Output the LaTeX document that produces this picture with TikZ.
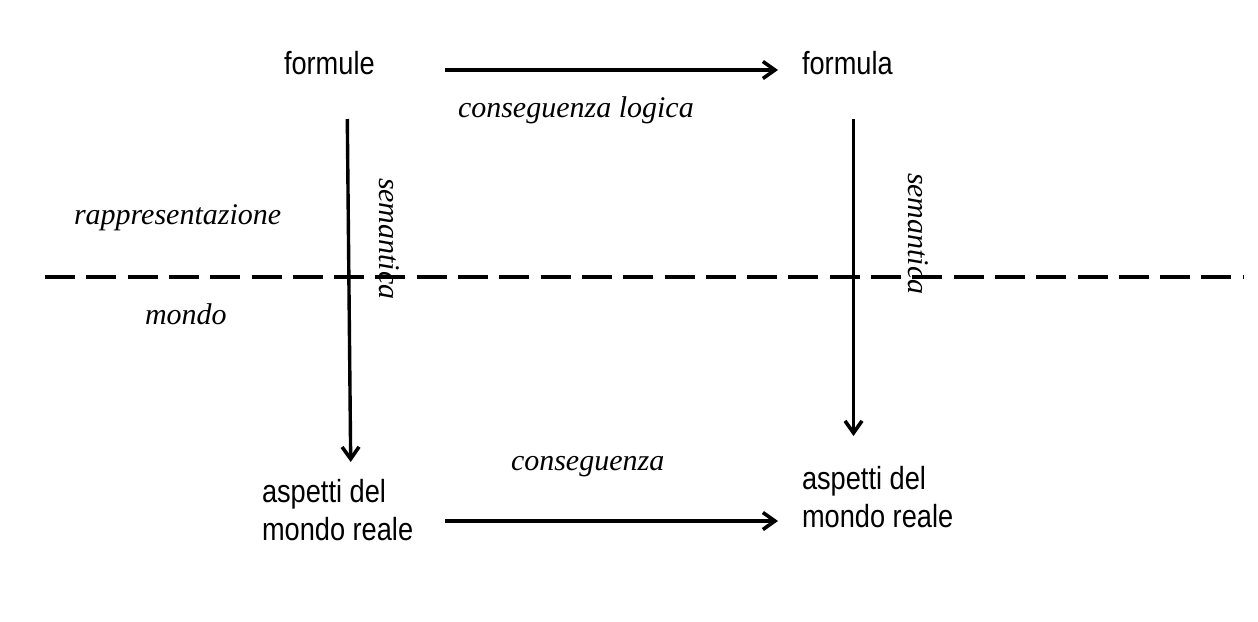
\documentclass[tikz,border=0pt]{standalone}
\usepackage{fontspec}
\setmainfont{Liberation Serif}
\newfontfamily\labelsans[FakeStretch=0.85]{Liberation Sans}
\usetikzlibrary{arrows.meta}
\begin{document}
\begin{tikzpicture}[x=1pt,y=-1pt,
  sanslabel/.style={inner sep=0pt,outer sep=0pt,font=\labelsans\fontsize{32}{38}\selectfont,align=left},
  itlabel/.style={inner sep=0pt,outer sep=0pt,font=\fontsize{30}{36}\selectfont\itshape},
  conn/.style={line width=3.4pt,-{Straight Barb[length=12pt,width=17pt,line width=3.6pt]}},
  divider/.style={line width=3.5pt,dash pattern=on 30pt off 11.3pt}]
\useasboundingbox (0,0) rectangle (1258,621);
% text nodes
\node[sanslabel,anchor=base west] (formule) at (284,74) {formule};
\node[sanslabel,anchor=base west] (formula) at (802,74) {formula};
\node[sanslabel,anchor=base west] (asp1) at (262,540) {aspetti del\\mondo reale};
\node[sanslabel,anchor=base west] (asp2) at (802,527) {aspetti del\\mondo reale};
\node[itlabel,anchor=base west] (conslog) at (458,117) {conseguenza logica};
\node[itlabel,anchor=base west] (cons) at (511,470) {conseguenza};
\node[itlabel,anchor=base west] (rapp) at (74,224) {rappresentazione};
\node[itlabel,anchor=base west] (mondo) at (145,324) {mondo};
% connector end points
\coordinate (t1) at (445,70);
\coordinate (t2) at (778,70);
\coordinate (b1) at (445,521);
\coordinate (b2) at (778,521);
\coordinate (l1) at (347.3,119);
\coordinate (l2) at (350.7,462);
\coordinate (r1) at (853.5,119);
\coordinate (r2) at (853.5,436);
\coordinate (d1) at (45,277);
\coordinate (d2) at (1243,277);
% divider
\draw[divider] (d1) -- (d2);
% connectors
\draw[conn] (t1) -- (t2);
\draw[conn] (b1) -- (b2);
\draw[conn] (l1) -- (l2);
\draw[conn] (r1) -- (r2);
% rotated labels
\node[itlabel,rotate=-90,anchor=mid west] (sem1) at (381.5,178) {semantica};
\node[itlabel,rotate=-90,anchor=mid west] (sem2) at (910.5,173) {semantica};
\end{tikzpicture}
\end{document}
